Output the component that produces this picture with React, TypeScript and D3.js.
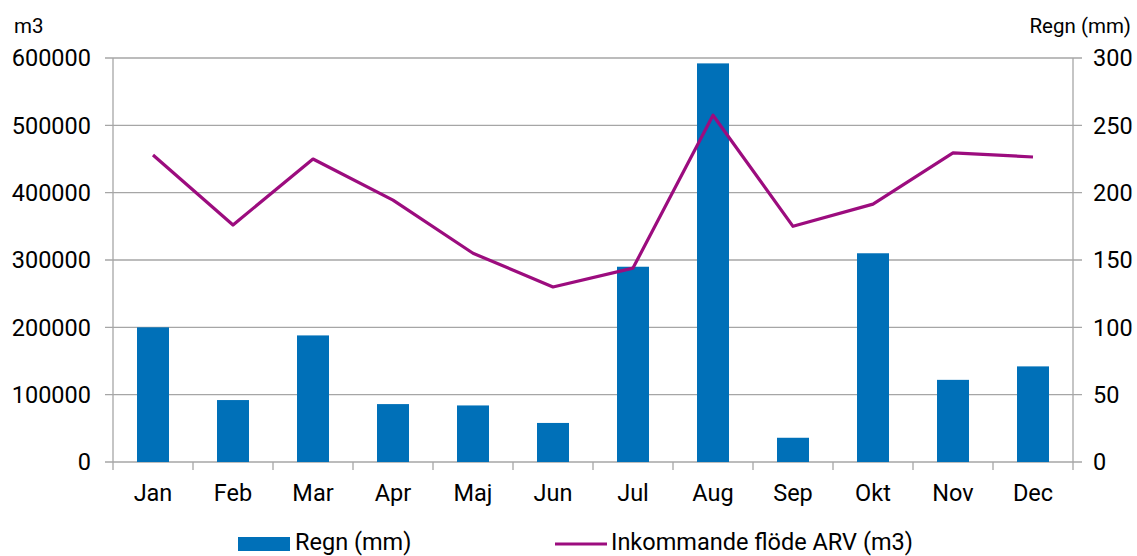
import { useRef, useEffect } from "react";
import * as d3 from "d3";

const W = 1137;
const H = 556;
const LEFT = 113;
const RIGHT = 1073;
const TOP = 58;
const BOTTOM = 462;

const MONTHS = ["Jan", "Feb", "Mar", "Apr", "Maj", "Jun", "Jul", "Aug", "Sep", "Okt", "Nov", "Dec"];
const REGN = [100, 46, 94, 43, 42, 29, 145, 296, 18, 155, 61, 71];
const FLODE = [456000, 352000, 450000, 389000, 310000, 260000, 288000, 515000, 350000, 383000, 459000, 453000];
const LEFT_TICKS = [0, 100000, 200000, 300000, 400000, 500000, 600000];
const RIGHT_TICKS = [0, 50, 100, 150, 200, 250, 300];

const BLUE = "#0070b8";
const PURPLE = "#9c0c7e";
const GRID = "#a6a6a6";
const FONT = "Roboto, sans-serif";
const FS = 23.5;

export default function App() {
  const svgRef = useRef<SVGSVGElement>(null);

  useEffect(() => {
    const svg = d3.select(svgRef.current);
    svg.selectAll("*").remove();

    const x = d3.scaleBand<string>().domain(MONTHS).range([LEFT, RIGHT]).paddingInner(0).paddingOuter(0);
    const yL = d3.scaleLinear([0, 600000], [BOTTOM, TOP]);
    const yR = d3.scaleLinear([0, 300], [BOTTOM, TOP]);

    // gridlines + ticks
    svg.append("g")
      .selectAll("line")
      .data(LEFT_TICKS)
      .join("line")
      .attr("x1", LEFT - 8)
      .attr("x2", RIGHT + 9)
      .attr("y1", d => yL(d))
      .attr("y2", d => yL(d))
      .attr("stroke", GRID)
      .attr("stroke-width", 1.3);

    // axes lines
    svg.append("line").attr("x1", LEFT).attr("x2", LEFT).attr("y1", TOP).attr("y2", BOTTOM + 8)
      .attr("stroke", GRID).attr("stroke-width", 1.3);
    svg.append("line").attr("x1", RIGHT).attr("x2", RIGHT).attr("y1", TOP).attr("y2", BOTTOM + 8)
      .attr("stroke", GRID).attr("stroke-width", 1.3);

    // x ticks at category boundaries
    svg.append("g")
      .selectAll("line")
      .data(MONTHS.slice(1))
      .join("line")
      .attr("x1", d => x(d)!)
      .attr("x2", d => x(d)!)
      .attr("y1", BOTTOM)
      .attr("y2", BOTTOM + 8)
      .attr("stroke", GRID)
      .attr("stroke-width", 1.3);

    // bars
    const bw = 32;
    svg.append("g")
      .selectAll("rect")
      .data(REGN)
      .join("rect")
      .attr("x", (_d, i) => x(MONTHS[i])! + x.bandwidth() / 2 - bw / 2)
      .attr("y", d => yR(d))
      .attr("width", bw)
      .attr("height", d => BOTTOM - yR(d))
      .attr("fill", BLUE);

    // line
    const line = d3.line<number>()
      .x((_d, i) => x(MONTHS[i])! + x.bandwidth() / 2)
      .y(d => yL(d));
    svg.append("path")
      .datum(FLODE)
      .attr("d", line)
      .attr("fill", "none")
      .attr("stroke", PURPLE)
      .attr("stroke-width", 3.2)
      .attr("stroke-linejoin", "round");

    const txt = svg.append("g").attr("font-family", FONT).attr("fill", "#000");

    // left labels
    txt.selectAll("text.l")
      .data(LEFT_TICKS)
      .join("text")
      .attr("class", "l")
      .attr("x", 91)
      .attr("y", d => yL(d))
      .attr("dy", "0.36em")
      .attr("text-anchor", "end")
      .attr("font-size", FS)
      .text(d => String(d));

    // right labels
    txt.selectAll("text.r")
      .data(RIGHT_TICKS)
      .join("text")
      .attr("class", "r")
      .attr("x", 1093)
      .attr("y", d => yR(d))
      .attr("dy", "0.36em")
      .attr("font-size", FS)
      .text(d => String(d));

    // x labels
    txt.selectAll("text.x")
      .data(MONTHS)
      .join("text")
      .attr("class", "x")
      .attr("x", d => x(d)! + x.bandwidth() / 2)
      .attr("y", 501)
      .attr("text-anchor", "middle")
      .attr("font-size", FS)
      .text(d => d);

    // axis titles
    txt.append("text").attr("x", 14).attr("y", 33).attr("font-size", 20.5).text("m3");
    txt.append("text").attr("x", 1131).attr("y", 33).attr("text-anchor", "end").attr("font-size", 20.5).text("Regn (mm)");

    // legend
    const lg = svg.append("g").attr("font-family", FONT);
    lg.append("rect").attr("x", 238).attr("y", 537).attr("width", 52).attr("height", 14).attr("fill", BLUE);
    lg.append("text").attr("x", 295).attr("y", 550).attr("font-size", FS).text("Regn (mm)");
    lg.append("line").attr("x1", 555).attr("x2", 607).attr("y1", 544).attr("y2", 544)
      .attr("stroke", PURPLE).attr("stroke-width", 3.2);
    lg.append("text").attr("x", 611).attr("y", 550).attr("font-size", FS).text("Inkommande flöde ARV (m3)");
  }, []);

  return (
    <svg
      ref={svgRef}
      width={W}
      height={H}
      style={{ position: "absolute", left: 0, top: 0, background: "#fff" }}
    />
  );
}
